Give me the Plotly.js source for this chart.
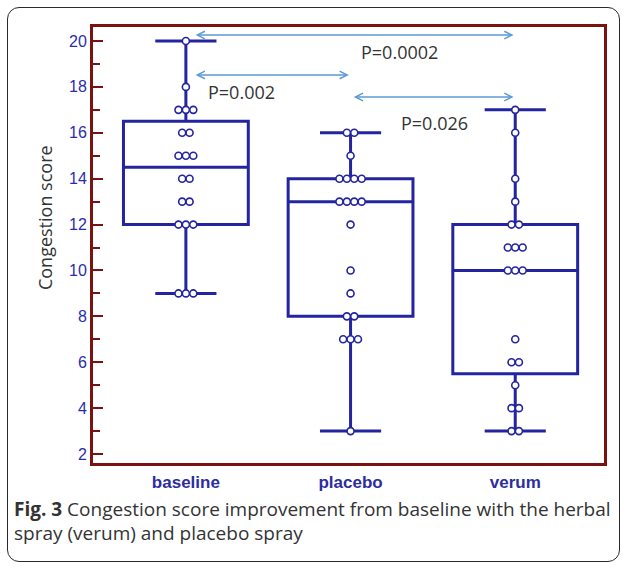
<!DOCTYPE html>
<html>
<head>
<meta charset="utf-8">
<script src="https://cdn.plot.ly/plotly-3.0.1.min.js"></script>
<style>
  html, body { margin: 0; padding: 0; background: #fff; }
  #wrap { position: relative; width: 625px; height: 567px; }
  #chart { position: absolute; left: 0; top: 0; width: 625px; height: 567px; }
  #frame { position: absolute; left: 7px; top: 7px; width: 611px; height: 553px;
           border: 1.5px solid #2a2a2a; border-radius: 12px; pointer-events: none; }
</style>
</head>
<body>
<div id="wrap">
  <div id="chart"></div>
  <div id="frame"></div>
</div>
<script>
// ---- data ----
const categories = ["baseline", "placebo", "verum"];
const baseline = [20,18,17,17,17,16,16,15,15,15,14,14,13,13,12,12,12,9,9,9];
const placebo  = [16,16,15,14,14,14,14,13,13,13,13,12,10,9,8,8,7,7,7,3];
const verum    = [17,16,14,13,12,12,11,11,11,10,10,10,7,6,6,5,4,4,3,3];
// box statistics as drawn
const q1Vals     = [12, 8, 5.5];
const medianVals = [14.5, 13, 10];
const q3Vals     = [16.5, 14, 12];
const lowVals    = [9, 3, 3];
const highVals   = [20, 16, 17];
// p-value comparisons: [from group, to group, label]
const pLabels = ["P=0.0002", "P=0.002", "P=0.026"];
const pFrom = [0, 0, 1];
const pTo   = [2, 1, 2];

const navy = "#2424a0";
const maroon = "#7a1212";
const arrowBlue = "#5b9bd5";
const groups = [baseline, placebo, verum];

// dot-plot positions: identical values sit side by side
const px = [], py = [];
const spread = 0.045;
groups.forEach((vals, gi) => {
  const counts = {};
  vals.forEach(v => { counts[v] = (counts[v] || 0) + 1; });
  Object.keys(counts).forEach(k => {
    const n = counts[k];
    for (let j = 0; j < n; j++) {
      px.push(gi + (j - (n - 1) / 2) * spread);
      py.push(Number(k));
    }
  });
});

const traces = [
  {
    type: "box",
    x: [0, 1, 2],
    q1: q1Vals, median: medianVals, q3: q3Vals,
    lowerfence: lowVals, upperfence: highVals,
    boxpoints: false,
    width: 0.758,
    whiskerwidth: 0.49,
    line: { color: navy, width: 3 },
    fillcolor: "rgba(255,255,255,0)",
    hoverinfo: "skip",
    showlegend: false
  },
  {
    type: "scatter",
    mode: "markers",
    x: px, y: py,
    marker: { symbol: "circle", size: 7, color: "#ffffff",
              line: { color: navy, width: 1.6 } },
    hoverinfo: "skip",
    showlegend: false
  }
];

const arrowY = [20.26, 18.52, 17.56];
const arrowXoff = [0.05, 0.05, 0.01];
const labelX = [1.297, 0.339, 1.509];
const labelY = [19.52, 17.78, 16.43];

const annotations = [];
for (let i = 0; i < pLabels.length; i++) {
  annotations.push({
    x: pTo[i] - 0.01, y: arrowY[i], xref: "x", yref: "y",
    ax: pFrom[i] + arrowXoff[i], ay: arrowY[i], axref: "x", ayref: "y",
    text: "", showarrow: true,
    arrowside: "end+start",
    arrowhead: 5, startarrowhead: 5,
    arrowsize: 1, startarrowsize: 1,
    arrowwidth: 1.5, arrowcolor: arrowBlue,
    standoff: 0, startstandoff: 0
  });
  annotations.push({
    x: labelX[i], y: labelY[i], xref: "x", yref: "y",
    text: pLabels[i], showarrow: false,
    xanchor: "center", yanchor: "middle",
    font: { family: "Open Sans", size: 18, color: "#333333" }
  });
}
// y axis title
annotations.push({
  x: -0.094, y: 0.564, xref: "paper", yref: "paper",
  text: "Congestion score", textangle: -90, showarrow: false,
  xanchor: "center", yanchor: "middle",
  font: { family: "Open Sans", size: 18, color: "#333333" }
});
// caption
annotations.push({
  x: -0.158, y: -0.1055, xref: "paper", yref: "paper",
  text: "<b>Fig. 3</b> Congestion score improvement from baseline with the herbal",
  showarrow: false, xanchor: "left", yanchor: "middle",
  font: { family: "Open Sans", size: 19, color: "#333333" }
});
annotations.push({
  x: -0.158, y: -0.1606, xref: "paper", yref: "paper",
  text: "spray (verum) and placebo spray",
  showarrow: false, xanchor: "left", yanchor: "middle",
  font: { family: "Open Sans", size: 19, color: "#333333" }
});

const layout = {
  width: 625, height: 567,
  margin: { l: 93, r: 21, t: 27, b: 104, pad: 0 },
  paper_bgcolor: "#ffffff", plot_bgcolor: "#ffffff",
  showlegend: false,
  xaxis: {
    range: [-0.564, 2.539],
    tickvals: [0, 1, 2], ticktext: categories,
    ticks: "", showgrid: false, zeroline: false,
    showline: true, mirror: true, linecolor: maroon, linewidth: 3,
    ticklabelstandoff: 2,
    tickfont: { family: "Liberation Sans", size: 17, color: "#2d2d9f", weight: "bold" }
  },
  yaxis: {
    range: [1.61, 20.61],
    tickvals: [2,4,6,8,10,12,14,16,18,20],
    ticks: "inside", ticklen: 10, tickwidth: 2, tickcolor: maroon,
    minor: { tickvals: [3,5,7,9,11,13,15,17,19], ticks: "inside", ticklen: 7, tickwidth: 2, tickcolor: maroon, showgrid: false },
    showgrid: false, zeroline: false,
    showline: true, mirror: true, linecolor: maroon, linewidth: 3,
    tickfont: { family: "Liberation Sans", size: 16, color: "#2b2bb0" }
  },
  annotations: annotations
};

Plotly.newPlot("chart", traces, layout, { staticPlot: true, displayModeBar: false });
</script>
</body>
</html>
